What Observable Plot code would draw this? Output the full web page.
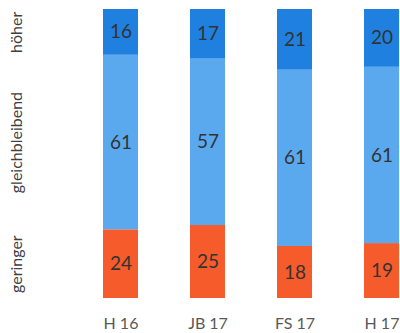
<!DOCTYPE html>
<html>
<head>
<meta charset="utf-8">
<script src="https://cdn.jsdelivr.net/npm/d3@7"></script>
<script src="https://cdn.jsdelivr.net/npm/@observablehq/plot@0.6"></script>
<style>
html, body { margin: 0; padding: 0; background: #fff; }
#chart { width: 400px; height: 333px; overflow: hidden; }
</style>
</head>
<body>
<div id="chart"></div>
<script>
const periods = ["H 16", "JB 17", "FS 17", "H 17"];
const categories = ["geringer", "gleichbleibend", "höher"];
const geringer = [24, 25, 18, 19];
const gleichbleibend = [61, 57, 61, 61];
const hoeher = [16, 17, 21, 20];
const colors = ["#f55b2b", "#5aa9ef", "#1f80e0"];

const series = [geringer, gleichbleibend, hoeher];
const data = [];
categories.forEach((c, ci) => {
  periods.forEach((p, pi) => data.push({period: p, cat: c, value: series[ci][pi]}));
});
const first = data.filter(d => d.period === periods[0]);

const chart = Plot.plot({
  width: 400,
  height: 333,
  marginLeft: 0,
  marginRight: 0,
  marginTop: 9,
  marginBottom: 35,
  style: {fontFamily: "Lato, 'Open Sans', sans-serif", background: "#fff"},
  x: {domain: periods, range: [83.4, 417.6], paddingInner: 0.602, paddingOuter: 0.2, label: null},
  y: {axis: null, domain: [0, 1]},
  color: {domain: categories, range: colors},
  marks: [
    Plot.barY(data, Plot.stackY({x: "period", y: "value", z: "cat", fill: "cat", offset: "normalize", order: categories})),
    Plot.text(data, Plot.stackY({x: "period", y: "value", z: "cat", offset: "normalize", order: categories,
      text: d => String(d.value), fontSize: 19, fill: "#333"})),
    Plot.text(first, Plot.stackY({y: "value", z: "cat", offset: "normalize", order: categories,
      text: "cat", frameAnchor: "left", textAnchor: "middle", dx: 16, rotate: -90, fontSize: 16, fill: "#404040"})),
    Plot.axisX({tickSize: 0, tickPadding: 19, fontSize: 16, color: "#595959", label: null})
  ]
});
document.getElementById("chart").appendChild(chart);
</script>
</body>
</html>
